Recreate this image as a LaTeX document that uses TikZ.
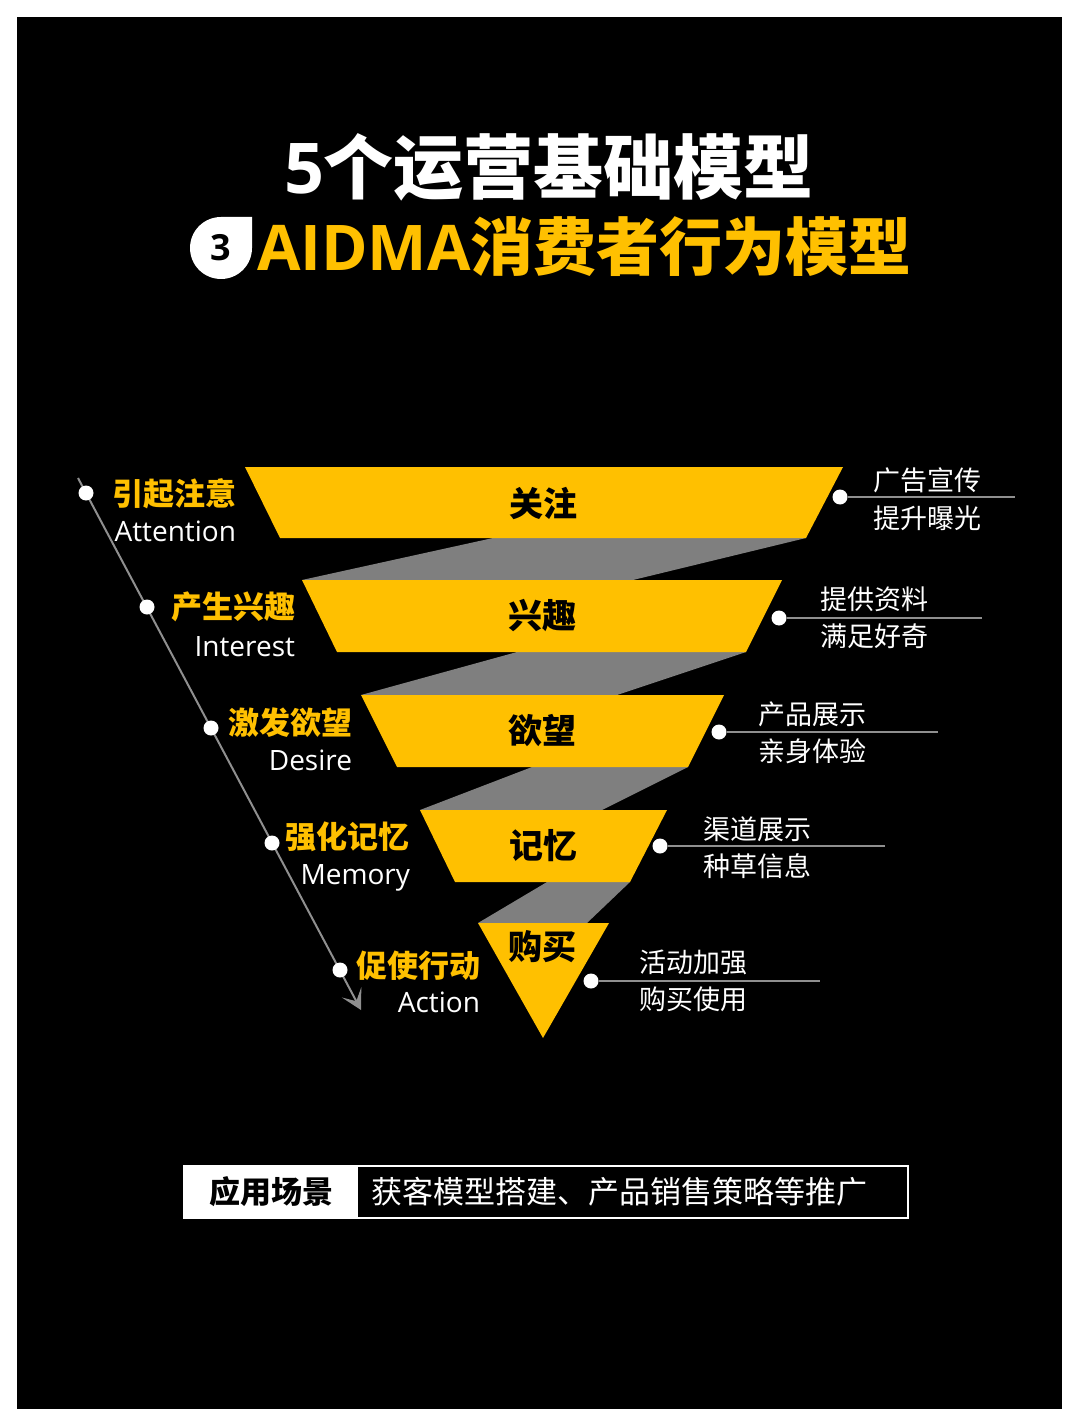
\documentclass[tikz,border=0pt]{standalone}
\usepackage{fontspec}
\setmainfont{Open Sans}
\newfontfamily\cjk{Noto Sans CJK SC}
\newfontfamily\lat{Open Sans}
\usetikzlibrary{arrows.meta}
\definecolor{ayel}{HTML}{FFC000}
\definecolor{agray}{HTML}{7F7F7F}
\definecolor{lgray}{HTML}{8F8F8F}
\begin{document}
\begin{tikzpicture}[x=0.5pt,y=-0.5pt,
  lbl/.style={inner sep=0pt, outer sep=0pt},
  cnlab/.style={lbl, anchor=base east, text=ayel, font=\cjk\bfseries\fontsize{15.5}{18}\selectfont},
  enlab/.style={lbl, anchor=base east, text=white, font=\lat\fontsize{14}{17}\selectfont},
  ctr/.style={lbl, text=black, font=\cjk\bfseries\fontsize{17}{20}\selectfont},
  rtxt/.style={lbl, anchor=west, align=left, text=white, font=\cjk\fontsize{13.5}{18.7}\selectfont},
  wdot/.style={circle, fill=white, inner sep=0pt, minimum size=7.5pt},
  band/.style={fill=agray},
  funnel/.style={fill=ayel},
  leftline/.style={draw=lgray, line width=1pt, -{Stealth[length=10pt,width=11pt,inset=5pt]}},
  rline/.style={draw=lgray, line width=0.8pt}
]
\useasboundingbox (0,0) rectangle (1080,1428);
\fill[white] (0,0) rectangle (1080,1428);
\fill[black] (17,17) rectangle (1062,1409);

% title
\node[lbl, text=white, font=\cjk\bfseries\fontsize{35}{40}\selectfont] (t1) at (549,167) {{\lat\bfseries 5}个运营基础模型};
\fill[white] (252,248) arc[start angle=0, end angle=270, radius=31] -- (252,217) -- cycle;
\node[lbl, text=black, font=\lat\bfseries\fontsize{18}{20}\selectfont] (n3) at (221,248) {3};
\node[lbl, anchor=west, text=ayel, font=\cjk\bfseries\fontsize{31.5}{34}\selectfont] (t2) at (257,247) {{\lat\bfseries AIDMA}消费者行为模型};

% gray bands
\fill[band] (493,538) -- (806,538) -- (633,580) -- (302,580) -- cycle;
\fill[band] (517,652) -- (746,652) -- (617,695) -- (361,695) -- cycle;
\fill[band] (532,767) -- (688,767) -- (602,810) -- (420,810) -- cycle;
\fill[band] (547,882) -- (630,882) -- (587,923) -- (478,923) -- cycle;

% funnel
\fill[funnel] (245,467) -- (843,467) -- (806,538) -- (280,538) -- cycle;
\fill[funnel] (302,580) -- (782,580) -- (746,652) -- (337,652) -- cycle;
\fill[funnel] (361,695) -- (724,695) -- (688,767) -- (397,767) -- cycle;
\fill[funnel] (420,810) -- (667,810) -- (630,882) -- (455,882) -- cycle;
\fill[funnel] (478,923) -- (609,923) -- (543,1038) -- cycle;

\node[ctr] (c1) at (543,503) {关注};
\node[ctr] (c2) at (542,616) {兴趣};
\node[ctr] (c3) at (542,731) {欲望};
\node[ctr] (c4) at (543,846) {记忆};
\node[ctr] (c5) at (542,947) {购买};

% left timeline
\coordinate (ls) at (78,478);
\coordinate (le) at (361,1010);
\draw[leftline] (ls) -- (le);
\node[wdot] (l1) at (86,493) {};
\node[wdot] (l2) at (147,607) {};
\node[wdot] (l3) at (211,728) {};
\node[wdot] (l4) at (272,843) {};
\node[wdot] (l5) at (340,970) {};

\node[cnlab] (a1) at (236,505) {引起注意};
\node[enlab] (e1) at (236,541) {Attention};
\node[cnlab] (a2) at (295,618) {产生兴趣};
\node[enlab] (e2) at (295,656) {Interest};
\node[cnlab] (a3) at (352,734) {激发欲望};
\node[enlab] (e3) at (352,770) {Desire};
\node[cnlab] (a4) at (409,848) {强化记忆};
\node[enlab] (e4) at (410,884) {Memory};
\node[cnlab] (a5) at (480,977) {促使行动};
\node[enlab] (e5) at (480,1012) {Action};

% right side
\coordinate (r1e) at (1015,497);
\coordinate (r2e) at (982,618);
\coordinate (r3e) at (938,732);
\coordinate (r4e) at (885,846);
\coordinate (r5e) at (820,981);
\node[wdot] (r1) at (840,497) {};
\node[wdot] (r2) at (779,618) {};
\node[wdot] (r3) at (719,732) {};
\node[wdot] (r4) at (660,846) {};
\node[wdot] (r5) at (591,981) {};
\draw[rline] (r1) -- (r1e);
\draw[rline] (r2) -- (r2e);
\draw[rline] (r3) -- (r3e);
\draw[rline] (r4) -- (r4e);
\draw[rline] (r5) -- (r5e);

\node[rtxt] (x1) at (873,499) {广告宣传\\提升曝光};
\node[rtxt] (x2) at (820,618) {提供资料\\满足好奇};
\node[rtxt] (x3) at (758,733) {产品展示\\亲身体验};
\node[rtxt] (x4) at (703,848) {渠道展示\\种草信息};
\node[rtxt] (x5) at (639,981) {活动加强\\购买使用};

% bottom box
\fill[white] (184,1166) rectangle (358,1218);
\draw[white, line width=1pt] (184,1166) rectangle (908,1218);
\node[lbl, text=black, font=\cjk\bfseries\fontsize{15.5}{18}\selectfont] (b1) at (271,1192) {应用场景};
\node[lbl, anchor=west, text=white, font=\cjk\fontsize{15.5}{18}\selectfont] (b2) at (371,1192) {获客模型搭建、产品销售策略等推广};
\end{tikzpicture}
\end{document}
